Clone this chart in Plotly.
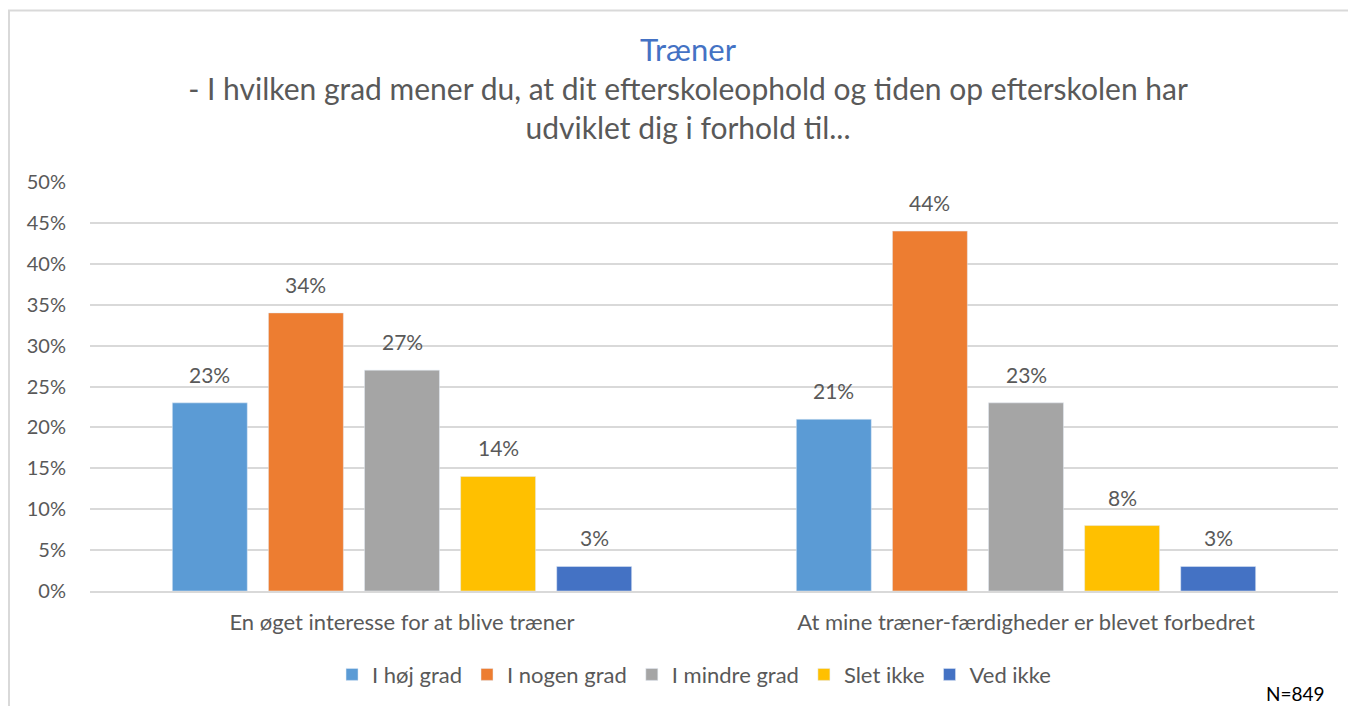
import plotly.graph_objects as go

categories = ["En øget interesse for at blive træner",
              "At mine træner-færdigheder er blevet forbedret"]
series = ["I høj grad", "I nogen grad", "I mindre grad", "Slet ikke", "Ved ikke"]
values = [
    [0.23, 0.21],
    [0.34, 0.44],
    [0.27, 0.23],
    [0.14, 0.08],
    [0.03, 0.03],
]
colors = ["#5B9BD5", "#ED7D31", "#A5A5A5", "#FFC000", "#4472C4"]

FONT = "Lato, 'Open Sans', sans-serif"
GRAY = "#595959"

W, H = 1356, 706
ML, MR, MT, MB = 82, 26, 174, 123
BARGAP, GROUPGAP = 0.23, 0.22
plot_w = W - ML - MR
plot_h = H - MT - MB

fig = go.Figure()
for name, vals, col in zip(series, values, colors):
    fig.add_trace(go.Bar(
        x=categories, y=vals, name=name,
        marker=dict(color=col),
    ))

# data labels, lifted a bit above the bars like in Excel
pitch = plot_w / len(categories) * (1 - BARGAP) / len(series)
for i, vals in enumerate(values):
    for cat, v in zip(categories, vals):
        fig.add_annotation(
            x=cat, y=v, text=f"{v:.0%}", showarrow=False,
            xshift=(i - (len(series) - 1) / 2) * pitch, yshift=14,
            yanchor="bottom", font=dict(size=21, color=GRAY, family=FONT),
        )

# chart frame (light grey border round the whole chart)
fig.add_shape(type="rect", xref="paper", yref="paper",
              x0=(1 - ML) / plot_w, x1=1.05,
              y0=-0.4, y1=(plot_h + MT - 2.5) / plot_h,
              line=dict(color="#D9D9D9", width=2), layer="below")

fig.update_layout(
    width=W, height=H,
    paper_bgcolor="white", plot_bgcolor="white",
    margin=dict(l=ML, r=MR, t=MT, b=MB, autoexpand=False),
    barmode="group", bargap=BARGAP, bargroupgap=GROUPGAP,
    font=dict(family=FONT, color=GRAY),
    showlegend=True,
    title=dict(
        text="<span style='color:#4472C4;font-size:31px'>Træner</span><br>"
             "- I hvilken grad mener du, at dit efterskoleophold og tiden op efterskolen har<br>"
             "udviklet dig i forhold til...",
        x=0.5015, xanchor="center", y=0.925, yanchor="top",
        font=dict(size=30, color=GRAY, family=FONT),
    ),
    yaxis=dict(range=[0, 0.5], dtick=0.05, tickformat=".0%",
               gridcolor="#D9D9D9", gridwidth=1.5, zeroline=False, automargin=False,
               tickfont=dict(size=20, color=GRAY), ticklabelstandoff=23),
    xaxis=dict(showline=True, linecolor="#D9D9D9", linewidth=1.5, automargin=False,
               tickfont=dict(size=22, color=GRAY), ticks="", ticklabelstandoff=11),
    legend=dict(orientation="h", x=0.484, xanchor="center", y=-0.153, yanchor="top",
                font=dict(size=22, color=GRAY), itemwidth=30, traceorder="normal"),
)
fig.add_annotation(text="N=849", xref="paper", yref="paper", x=0.991, y=-0.218,
                   xanchor="right", yanchor="top", showarrow=False,
                   font=dict(size=19, color="#000000", family=FONT))

fig.write_html("out.html")
